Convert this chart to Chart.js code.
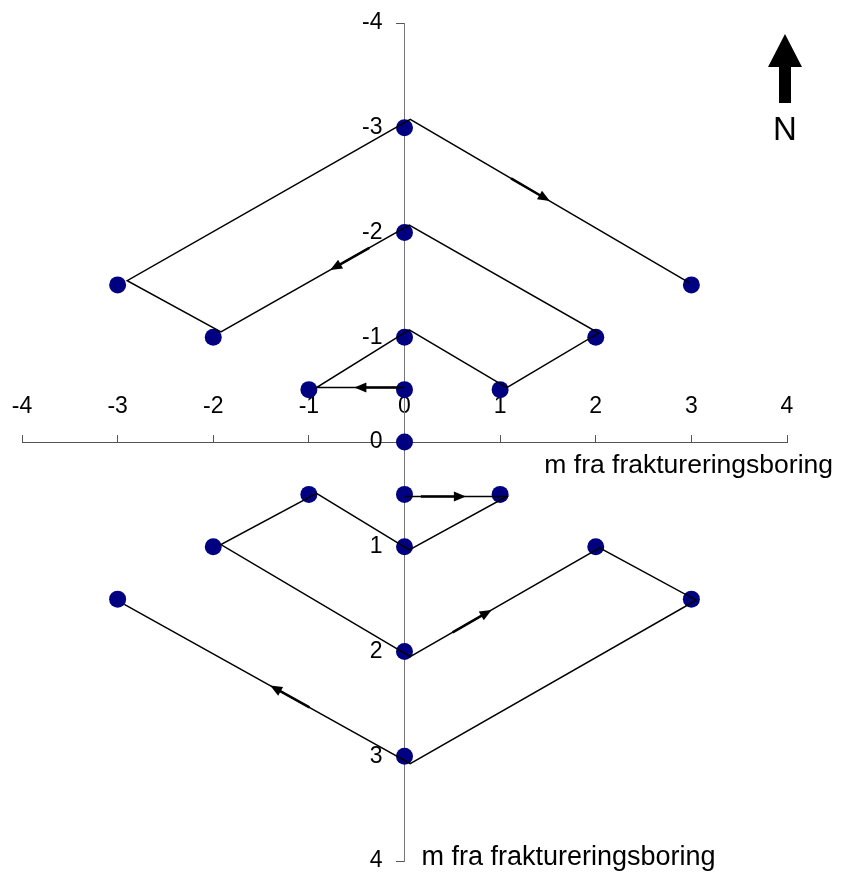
<!DOCTYPE html>
<html>
<head>
<meta charset="utf-8">
<script src="https://cdn.jsdelivr.net/npm/chart.js@4.4.0/dist/chart.umd.min.js"></script>
<style>
  html, body { margin: 0; padding: 0; background: #fff; }
</style>
</head>
<body>
<canvas id="myChart" width="853" height="874"></canvas>
<script>
'use strict'

// measuring points (m from the fracturing borehole)
const pointX = [0, 3, 0, -3, -2, 2, 0, 1, -1, 0, 0, 0, 1, -1, 0, -2, 2, 0, -3, 3, 0];
const pointY = [-3, -1.5, -2, -1.5, -1, -1, -1, -0.5, -0.5, -0.5, 0, 0.5, 0.5, 0.5, 1, 1, 1, 2, 1.5, 1.5, 3];

// route north of the borehole (drawn slightly off the points, as in the original)
const northX = [0, -0.92, 0.05, 1.07, 2.03, 0.05, -1.92, -2.9, 0.06, 2.98];
const northY = [-0.52, -0.52, -1.07, -0.52, -1.04, -2.07, -1.05, -1.54, -3.08, -1.52];

// route south of the borehole
const southX = [0, 1.07, 0.05, -0.92, -1.92, 0.06, 2.04, 3.05, 0.06, -2.93];
const southY = [0.52, 0.52, 1.03, 0.49, 0.98, 2.05, 1.01, 1.51, 3.07, 1.55];

// arrow heads: route, segment and position along the segment
const arrowRoute = ['north', 'north', 'north', 'south', 'south', 'south'];
const arrowSeg = [0, 5, 8, 0, 5, 8];
const arrowAt = [0.57, 0.42, 0.5, 0.6, 0.43, 0.49];

const tickValues = [-4, -3, -2, -1, 0, 1, 2, 3, 4];
const axisTitle = 'm fra fraktureringsboring';
const northLabel = 'N';

const FONT = "'Liberation Sans', Arial, sans-serif";
Chart.defaults.font.family = FONT;
Chart.defaults.color = '#000';

const toXY = (xs, ys) => xs.map((v, i) => ({x: v, y: ys[i]}));

const extras = {
  id: 'extras',
  afterDatasetsDraw(chart) {
    const {ctx, scales: {x, y}} = chart;
    const routes = {north: [northX, northY], south: [southX, southY]};
    ctx.save();
    ctx.fillStyle = '#000';
    ctx.strokeStyle = '#000';
    for (let i = 0; i < arrowSeg.length; i++) {
      const [rx, ry] = routes[arrowRoute[i]];
      const s = arrowSeg[i];
      const x0 = x.getPixelForValue(rx[s]), y0 = y.getPixelForValue(ry[s]);
      const x1 = x.getPixelForValue(rx[s + 1]), y1 = y.getPixelForValue(ry[s + 1]);
      const t = arrowAt[i];
      const tx = x0 + (x1 - x0) * t, ty = y0 + (y1 - y0) * t;
      ctx.save();
      ctx.translate(tx, ty);
      ctx.rotate(Math.atan2(y1 - y0, x1 - x0));
      ctx.lineWidth = 2.5;
      ctx.beginPath(); ctx.moveTo(-45, 0); ctx.lineTo(-8, 0); ctx.stroke();
      ctx.beginPath(); ctx.moveTo(0, 0); ctx.lineTo(-12, -5); ctx.lineTo(-12, 5); ctx.closePath(); ctx.fill();
      ctx.restore();
    }
    ctx.restore();
  },
  afterDraw(chart) {
    const {ctx, scales: {x, y}} = chart;
    ctx.save();
    ctx.fillStyle = '#000';
    ctx.textBaseline = 'middle';

    // y tick labels, left of the tick marks
    ctx.font = '23px ' + FONT;
    ctx.textAlign = 'right';
    const axisX = x.getPixelForValue(0);
    y.ticks.forEach(t => {
      ctx.fillText(String(t.value), axisX - 22, y.getPixelForValue(t.value));
    });

    // x axis title, under the right end of the axis
    ctx.font = '26.5px ' + FONT;
    ctx.textAlign = 'right';
    ctx.fillText(axisTitle, x.getPixelForValue(4) + 46, y.getPixelForValue(0) + 24);
    // y axis title, beside the bottom end
    ctx.font = '27px ' + FONT;
    ctx.textAlign = 'left';
    ctx.fillText(axisTitle, axisX + 17, y.getPixelForValue(4) - 3);

    // north arrow
    const cx = 785;
    ctx.beginPath();
    ctx.moveTo(cx, 34);
    ctx.lineTo(cx + 17, 67);
    ctx.lineTo(cx + 6, 67);
    ctx.lineTo(cx + 6, 103);
    ctx.lineTo(cx - 6, 103);
    ctx.lineTo(cx - 6, 67);
    ctx.lineTo(cx - 17, 67);
    ctx.closePath();
    ctx.fill();
    ctx.font = '33px ' + FONT;
    ctx.textAlign = 'center';
    ctx.fillText(northLabel, cx, 131);
    ctx.restore();
  }
};

const setTicks = scale => { scale.ticks = tickValues.map(v => ({value: v})); };

const chart = new Chart(document.getElementById('myChart'), {
  type: 'scatter',
  data: {
    datasets: [
      {
        data: toXY(northX, northY), showLine: true, order: 1,
        borderColor: '#000', borderWidth: 1.5, pointRadius: 0, pointHoverRadius: 0, tension: 0
      },
      {
        data: toXY(southX, southY), showLine: true, order: 1,
        borderColor: '#000', borderWidth: 1.5, pointRadius: 0, pointHoverRadius: 0, tension: 0
      },
      {
        data: toXY(pointX, pointY), order: 2,
        backgroundColor: '#000080', borderWidth: 0, pointRadius: 8.5, pointHoverRadius: 8.5
      }
    ]
  },
  options: {
    responsive: false,
    animation: false,
    events: [],
    layout: {padding: {left: 22, right: 66, top: 23, bottom: 13}},
    plugins: {legend: {display: false}, tooltip: {enabled: false}},
    scales: {
      x: {
        type: 'linear', min: -4, max: 4,
        position: {y: 0},
        afterBuildTicks: setTicks,
        afterFit: s => { s.height = 0; },
        grid: {drawOnChartArea: false, tickLength: -8, color: '#555'},
        border: {color: '#555', width: 1},
        ticks: {font: {size: 23}, padding: -41, maxRotation: 0, autoSkip: false}
      },
      y: {
        type: 'linear', min: -4, max: 4, reverse: true,
        position: {x: 0},
        afterBuildTicks: setTicks,
        afterFit: s => { s.width = 0; },
        grid: {drawOnChartArea: false, tickLength: 8, color: '#555'},
        border: {color: '#777', width: 1},
        ticks: {display: false}
      }
    }
  },
  plugins: [extras]
});
</script>
</body>
</html>
